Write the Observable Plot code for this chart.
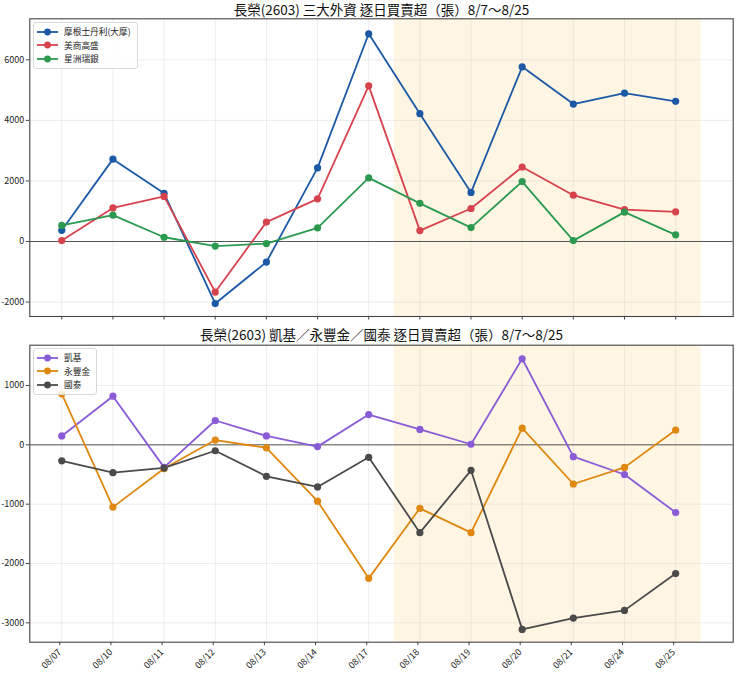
<!DOCTYPE html>
<html>
<head>
<meta charset="utf-8">
<script src="https://cdn.jsdelivr.net/npm/d3@7"></script>
<script src="https://cdn.jsdelivr.net/npm/@observablehq/plot@0.6"></script>
<style>
  html, body { margin: 0; padding: 0; background: white; }
  #wrap { position: relative; width: 740px; }
  #wrap svg { display: block; }
  .legend {
    position: absolute;
    background: rgba(255,255,255,0.85);
    border: 1px solid #d8d8d8;
    border-radius: 3px;
    font-family: 'Noto Sans CJK TC', sans-serif;
    font-size: 8.7px;
    color: #222;
    padding: 2px 6px 2px 3px;
    line-height: 13.5px;
  }
  .legend .row { display: flex; align-items: center; white-space: nowrap; }
  .legend svg { margin-right: 6px; }
</style>
</head>
<body>
<div id="wrap"></div>
<script>
const dates = ["08/07","08/10","08/11","08/12","08/13","08/14","08/17","08/18","08/19","08/20","08/21","08/24","08/25"];

// Top panel: 三大外資
const topTitle = "長榮(2603) 三大外資 逐日買賣超（張）8/7〜8/25";
const topNames = ["摩根士丹利(大摩)", "美商高盛", "星洲瑞銀"];
const topColors = ["#1c59a5", "#d6434d", "#2b9a50"];
const morgan = [370, 2720, 1590, -2050, -680, 2430, 6860, 4220, 1620, 5770, 4540, 4900, 4630];
const goldman = [30, 1110, 1490, -1670, 640, 1410, 5140, 360, 1090, 2460, 1530, 1050, 980];
const ubs = [530, 870, 140, -150, -70, 450, 2100, 1260, 460, 1980, 30, 970, 220];
const topTicks = [-2000, 0, 2000, 4000, 6000];

// Bottom panel: 凱基／永豐金／國泰
const botTitle = "長榮(2603) 凱基／永豐金／國泰 逐日買賣超（張）8/7〜8/25";
const botNames = ["凱基", "永豐金", "國泰"];
const botColors = ["#8a5bd6", "#df870f", "#4a4a4a"];
const kgi = [150, 820, -380, 410, 150, -30, 510, 260, 10, 1450, -200, -500, -1140];
const sinopac = [860, -1050, -400, 80, -50, -950, -2250, -1070, -1480, 280, -660, -380, 250];
const cathay = [-270, -470, -390, -100, -530, -710, -210, -1480, -430, -3110, -2920, -2790, -2170];
const botTicks = [-3000, -2000, -1000, 0, 1000];

// highlighted period: 08/18 .. 08/25
const highlightStart = "08/18", highlightEnd = "08/25";

const idx = dates.map((_, i) => i);
const hl = [{x1: dates.indexOf(highlightStart) - 0.5, x2: dates.indexOf(highlightEnd) + 0.5}];

function tidy(names, arrays) {
  const out = [];
  names.forEach((n, k) => arrays[k].forEach((v, i) => out.push({series: n, i, date: dates[i], value: v})));
  return out;
}

const font = "'Noto Sans CJK TC', 'Noto Sans CJK SC', sans-serif";
const xDomain = [-0.625, dates.length - 1 + 1.125];

function panel({title, names, colors, arrays, ticks, yDomain, height, marginTop, marginBottom, showX, titleDy}) {
  const data = tidy(names, arrays);
  return Plot.plot({
    width: 740,
    height,
    marginLeft: 29.3,
    marginRight: 7.3,
    marginTop,
    marginBottom,
    style: {fontFamily: font, fontSize: "9px", color: "#222", background: "white", overflow: "visible"},
    x: {type: "linear", domain: xDomain, axis: null},
    y: {domain: yDomain, axis: null},
    color: {domain: names, range: colors},
    marks: [
      Plot.rect(hl, {x1: "x1", x2: "x2", fill: "#ffa500", fillOpacity: 0.11}),
      Plot.gridX({ticks: idx, stroke: "#cfcfcf", strokeOpacity: 0.5, strokeWidth: 0.8}),
      Plot.gridY({ticks, stroke: "#cfcfcf", strokeOpacity: 0.5, strokeWidth: 0.8}),
      Plot.ruleY([0], {stroke: "#555", strokeWidth: 1}),
      Plot.line(data, {x: "i", y: "value", z: "series", stroke: "series", strokeWidth: 1.8}),
      Plot.dot(data, {x: "i", y: "value", fill: "series", r: 3.6, stroke: null}),
      Plot.frame({stroke: "#444", strokeWidth: 1.1}),
      Plot.axisY({ticks, tickSize: 3.5, tickPadding: 2, tickFormat: d => String(d), label: null, stroke: "#444", fill: "#222"}),
      showX
        ? Plot.axisX({ticks: idx, tickSize: 3.5, tickPadding: 5, dx: -2, tickRotate: -45, tickFormat: i => dates[i], label: null, stroke: "#444", fill: "#222"})
        : Plot.axisX({ticks: idx, tickSize: 3.5, tickFormat: () => "", label: null, stroke: "#444"}),
      Plot.text([title], {frameAnchor: "top", lineAnchor: "middle", dy: titleDy, fontSize: 13.5, fill: "#111", fontFamily: font})
    ]
  });
}

function legend(names, colors, left, top) {
  const div = document.createElement("div");
  div.className = "legend";
  div.style.left = left + "px";
  div.style.top = top + "px";
  names.forEach((n, k) => {
    const row = document.createElement("div");
    row.className = "row";
    row.innerHTML = `<svg width="21" height="10"><line x1="0" y1="5" x2="21" y2="5" stroke="${colors[k]}" stroke-width="1.8"/><circle cx="10.5" cy="5" r="3.4" fill="${colors[k]}"/></svg><span>${n}</span>`;
    div.appendChild(row);
  });
  return div;
}

const wrap = document.getElementById("wrap");
wrap.appendChild(panel({
  title: topTitle, names: topNames, colors: topColors, arrays: [morgan, goldman, ubs],
  ticks: topTicks, yDomain: [-2477, 7355], height: 330, marginTop: 18.3, marginBottom: 14, showX: false, titleDy: -8.3
}));
wrap.appendChild(panel({
  title: botTitle, names: botNames, colors: botColors, arrays: [kgi, sinopac, cathay],
  ticks: botTicks, yDomain: [-3326, 1679], height: 347, marginTop: 14.7, marginBottom: 35.3, showX: true, titleDy: -9.2
}));
wrap.appendChild(legend(topNames, topColors, 33, 22));
wrap.appendChild(legend(botNames, botColors, 33, 348));
</script>
</body>
</html>
